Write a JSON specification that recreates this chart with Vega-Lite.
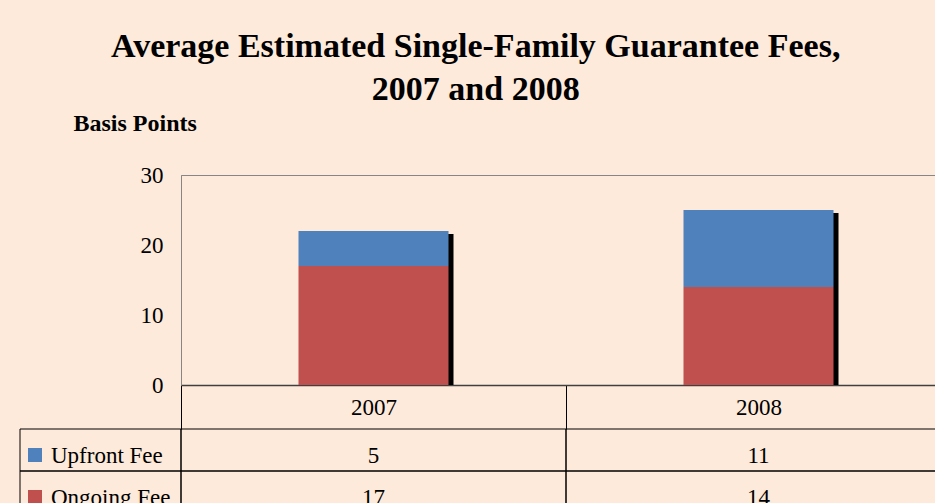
{
  "$schema": "https://vega.github.io/schema/vega-lite/v6.json",
  "background": "#FDEADA",
  "padding": {"left": 19, "top": 29, "right": 0, "bottom": 0},
  "title": {
    "text": ["Average Estimated Single-Family Guarantee Fees,", "2007 and 2008"],
    "font": "Liberation Serif",
    "fontSize": 34,
    "fontWeight": "bold",
    "color": "#000000",
    "lineHeight": 43,
    "anchor": "middle",
    "offset": 4,
    "dx": -10
  },
  "datasets": {
    "fees": [
      {"year": "2007", "fee": "Upfront Fee", "value": 5},
      {"year": "2007", "fee": "Ongoing Fee", "value": 17},
      {"year": "2008", "fee": "Upfront Fee", "value": 11},
      {"year": "2008", "fee": "Ongoing Fee", "value": 14}
    ],
    "legendRows": [
      {"fee": "Upfront Fee"},
      {"fee": "Ongoing Fee"}
    ]
  },
  "columns": 2,
  "bounds": "flush",
  "spacing": {"row": 44, "column": 0},
  "resolve": {"scale": {"x": "independent", "y": "independent"}},
  "concat": [
    {
      "width": 161,
      "height": 210,
      "data": {"name": "legendRows"},
      "mark": {"type": "point", "opacity": 0},
      "encoding": {}
    },
    {
      "width": 770,
      "height": 210,
      "view": {"stroke": "#868686", "strokeWidth": 1},
      "data": {"name": "fees"},
      "encoding": {
        "x": {
          "field": "year",
          "type": "nominal",
          "scale": {"paddingInner": 0, "paddingOuter": 0},
          "axis": {
            "title": null,
            "labelAngle": 0,
            "domainColor": "#404040",
            "domainWidth": 1.5,
            "ticks": true,
            "tickBand": "extent",
            "tickSize": 44,
            "tickColor": "#000000",
            "tickWidth": 1,
            "labelPadding": -22,
            "labelBaseline": "middle",
            "labelFont": "Liberation Serif",
            "labelFontSize": 23,
            "labelColor": "#000000"
          }
        }
      },
      "layer": [
        {
          "mark": {"type": "bar", "color": "#000000", "width": 150, "xOffset": 5, "yOffset": 3},
          "encoding": {
            "y": {
              "aggregate": "sum",
              "field": "value",
              "type": "quantitative",
              "scale": {"domain": [0, 30]},
              "axis": {
                "values": [0, 10, 20, 30],
                "grid": false,
                "ticks": false,
                "domain": true,
                "domainColor": "#868686",
                "labelPadding": 18,
                "labelFont": "Liberation Serif",
                "labelFontSize": 23,
                "labelColor": "#000000",
                "title": "Basis Points",
                "titleAngle": 0,
                "titleAlign": "left",
                "titleBaseline": "alphabetic",
                "titleX": -108,
                "titleY": -45,
                "titleFont": "Liberation Serif",
                "titleFontSize": 24,
                "titleFontWeight": "bold",
                "titleColor": "#000000"
              }
            }
          }
        },
        {
          "mark": {"type": "bar", "width": 150},
          "encoding": {
            "y": {"field": "value", "type": "quantitative", "stack": "zero"},
            "color": {
              "field": "fee",
              "type": "nominal",
              "scale": {"domain": ["Upfront Fee", "Ongoing Fee"], "range": ["#4F81BD", "#C0504D"]},
              "legend": null
            },
            "order": {"field": "fee", "sort": "ascending"}
          }
        }
      ]
    },
    {
      "width": 161,
      "height": 84,
      "data": {"name": "legendRows"},
      "encoding": {
        "y": {
          "field": "fee",
          "type": "nominal",
          "scale": {"domain": ["Upfront Fee", "Ongoing Fee"], "paddingInner": 0, "paddingOuter": 0},
          "axis": null
        }
      },
      "layer": [
        {
          "mark": {"type": "rect", "fill": null, "fillOpacity": 0, "stroke": "#000000", "strokeWidth": 1},
          "encoding": {"x": {"value": 0}, "x2": {"value": "width"}}
        },
        {
          "mark": {"type": "point", "shape": "square", "filled": true, "opacity": 1, "size": 196, "yOffset": 5},
          "encoding": {
            "x": {"value": 15},
            "color": {"field": "fee", "type": "nominal", "legend": null}
          }
        },
        {
          "mark": {"type": "text", "align": "left", "baseline": "alphabetic", "dy": 13, "font": "Liberation Serif", "fontSize": 23, "color": "#000000"},
          "encoding": {
            "x": {"value": 31},
            "text": {"field": "fee"}
          }
        }
      ]
    },
    {
      "width": 770,
      "height": 84,
      "data": {"name": "fees"},
      "encoding": {
        "x": {"field": "year", "type": "nominal", "scale": {"paddingInner": 0, "paddingOuter": 0}, "axis": null},
        "y": {
          "field": "fee",
          "type": "nominal",
          "scale": {"domain": ["Upfront Fee", "Ongoing Fee"], "paddingInner": 0, "paddingOuter": 0},
          "axis": null
        }
      },
      "layer": [
        {
          "mark": {"type": "rect", "fill": null, "fillOpacity": 0, "stroke": "#000000", "strokeWidth": 1}
        },
        {
          "mark": {"type": "text", "align": "center", "baseline": "alphabetic", "dy": 13, "font": "Liberation Serif", "fontSize": 23, "color": "#000000"},
          "encoding": {"text": {"field": "value", "type": "quantitative"}}
        }
      ]
    }
  ],
  "config": {
    "view": {"stroke": null},
    "font": "Liberation Serif",
    "axis": {"titleFont": "Liberation Serif", "labelFont": "Liberation Serif"}
  }
}
